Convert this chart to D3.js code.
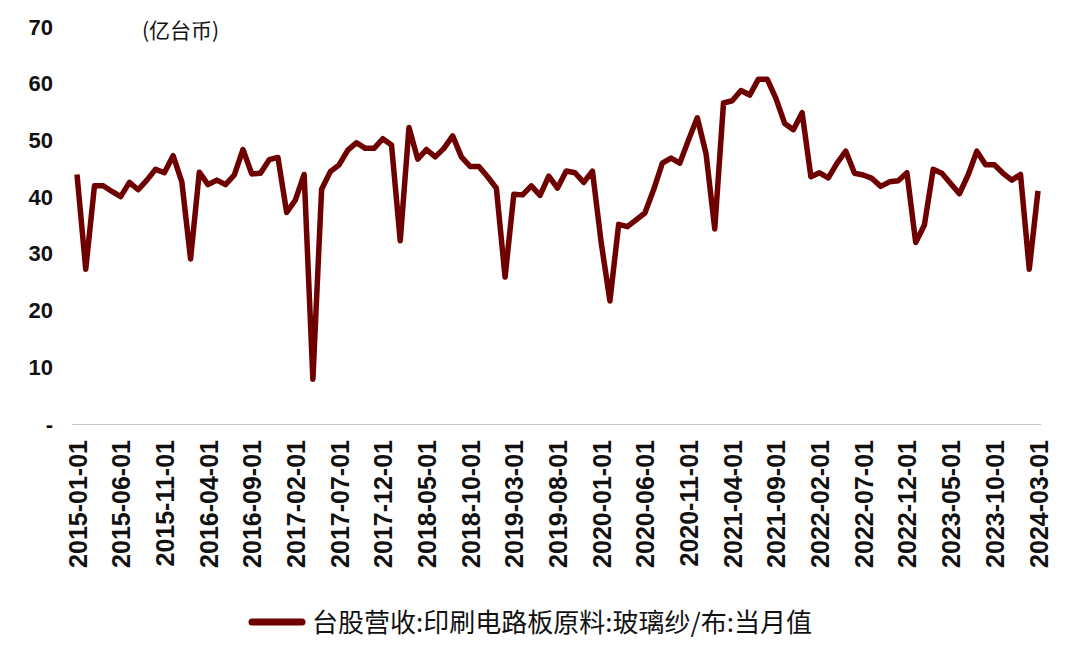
<!DOCTYPE html>
<html>
<head>
<meta charset="utf-8">
<script src="https://cdn.jsdelivr.net/npm/d3@7"></script>
<style>
  html, body { margin: 0; padding: 0; background: #fff; }
  svg { display: block; }
</style>
</head>
<body>
<svg id="chart" width="1074" height="653"></svg>
<script>
// ---- data ----
const months = [
  "2015-01-01","2015-02-01","2015-03-01","2015-04-01","2015-05-01","2015-06-01","2015-07-01","2015-08-01","2015-09-01","2015-10-01","2015-11-01","2015-12-01",
  "2016-01-01","2016-02-01","2016-03-01","2016-04-01","2016-05-01","2016-06-01","2016-07-01","2016-08-01","2016-09-01","2016-10-01","2016-11-01","2016-12-01",
  "2017-01-01","2017-02-01","2017-03-01","2017-04-01","2017-05-01","2017-06-01","2017-07-01","2017-08-01","2017-09-01","2017-10-01","2017-11-01","2017-12-01",
  "2018-01-01","2018-02-01","2018-03-01","2018-04-01","2018-05-01","2018-06-01","2018-07-01","2018-08-01","2018-09-01","2018-10-01","2018-11-01","2018-12-01",
  "2019-01-01","2019-02-01","2019-03-01","2019-04-01","2019-05-01","2019-06-01","2019-07-01","2019-08-01","2019-09-01","2019-10-01","2019-11-01","2019-12-01",
  "2020-01-01","2020-02-01","2020-03-01","2020-04-01","2020-05-01","2020-06-01","2020-07-01","2020-08-01","2020-09-01","2020-10-01","2020-11-01","2020-12-01",
  "2021-01-01","2021-02-01","2021-03-01","2021-04-01","2021-05-01","2021-06-01","2021-07-01","2021-08-01","2021-09-01","2021-10-01","2021-11-01","2021-12-01",
  "2022-01-01","2022-02-01","2022-03-01","2022-04-01","2022-05-01","2022-06-01","2022-07-01","2022-08-01","2022-09-01","2022-10-01","2022-11-01","2022-12-01",
  "2023-01-01","2023-02-01","2023-03-01","2023-04-01","2023-05-01","2023-06-01","2023-07-01","2023-08-01","2023-09-01","2023-10-01","2023-11-01","2023-12-01",
  "2024-01-01","2024-02-01","2024-03-01"
];
const revenue = [
  44.0,27.3,42.0,42.0,41.0,40.1,42.6,41.3,43.0,44.9,44.3,47.3,
  42.7,29.1,44.4,42.2,43.0,42.2,43.9,48.4,44.1,44.2,46.6,47.0,
  37.3,39.5,44.0,7.9,41.4,44.5,45.7,48.3,49.6,48.6,48.6,50.3,
  49.2,32.3,52.3,46.7,48.4,47.1,48.6,50.8,47.1,45.4,45.4,43.6,
  41.6,25.9,40.5,40.4,42.0,40.3,43.7,41.6,44.6,44.3,42.6,44.6,
  32.0,21.7,35.2,34.8,36.0,37.2,41.3,46.0,46.9,46.0,50.1,54.0,
  47.7,34.4,56.6,57.0,58.8,58.0,60.8,60.8,57.4,53.0,51.9,54.9,
  43.6,44.3,43.4,46.0,48.1,44.2,43.9,43.3,41.9,42.7,42.9,44.3,
  32.0,35.1,44.9,44.2,42.4,40.6,43.9,48.1,45.7,45.7,44.2,43.0,
  44.0,27.3,41.1
];
const xTickLabels = [
  "2015-01-01","2015-06-01","2015-11-01","2016-04-01","2016-09-01","2017-02-01","2017-07-01","2017-12-01",
  "2018-05-01","2018-10-01","2019-03-01","2019-08-01","2020-01-01","2020-06-01","2020-11-01","2021-04-01",
  "2021-09-01","2022-02-01","2022-07-01","2022-12-01","2023-05-01","2023-10-01","2024-03-01"
];
const yTicks = [0,10,20,30,40,50,60,70];
const yTickLabels = ["-","10","20","30","40","50","60","70"];
const unitLabel = "(亿台币)";
const seriesName = "台股营收:印刷电路板原料:玻璃纱/布:当月值";

// ---- drawing ----
const svg = d3.select("#chart");
const lineColor = "#6e0000";
const latin = "'Liberation Sans', Arial, sans-serif";
const cjk = "'Noto Sans CJK SC', 'Liberation Sans', sans-serif";

const x = d3.scalePoint().domain(months).range([77, 1038]);
const y = d3.scaleLinear().domain([0, 70]).range([424, 27]);

// baseline
svg.append("line")
  .attr("x1", 72).attr("x2", 1041)
  .attr("y1", y(0) + 0.5).attr("y2", y(0) + 0.5)
  .attr("stroke", "#c4c4c4").attr("stroke-width", 1);

// y axis
const yAxis = svg.append("g")
  .attr("transform", "translate(53,0)")
  .call(d3.axisLeft(y).tickValues(yTicks)
    .tickFormat((d, i) => yTickLabels[i]).tickSize(0).tickPadding(0));
yAxis.select(".domain").remove();
yAxis.selectAll("text")
  .attr("font-family", latin).attr("font-weight", "bold")
  .attr("font-size", 22).attr("fill", "#111");

// x axis
const xAxis = svg.append("g")
  .attr("transform", `translate(0,${y(0)})`)
  .call(d3.axisBottom(x).tickValues(xTickLabels).tickSize(0));
xAxis.select(".domain").remove();
xAxis.selectAll("text")
  .attr("transform", "rotate(-90)")
  .attr("text-anchor", "end")
  .attr("x", -16).attr("y", 0).attr("dy", "0.36em")
  .attr("font-family", latin).attr("font-weight", "bold")
  .attr("font-size", 25).attr("fill", "#111");

// unit label
svg.append("text")
  .attr("x", 142).attr("y", 38)
  .attr("font-family", cjk).attr("font-size", 21).attr("fill", "#111")
  .text(unitLabel);

// series line
const line = d3.line()
  .x((d, i) => x(months[i]))
  .y(d => y(d));
svg.append("path")
  .datum(revenue)
  .attr("d", line)
  .attr("fill", "none")
  .attr("stroke", lineColor)
  .attr("stroke-width", 5.5)
  .attr("stroke-linejoin", "round");

// legend
svg.append("line")
  .attr("x1", 252).attr("x2", 302).attr("y1", 622).attr("y2", 622)
  .attr("stroke", lineColor).attr("stroke-width", 7).attr("stroke-linecap", "round");
svg.append("text")
  .attr("x", 312).attr("y", 632)
  .attr("font-family", cjk).attr("font-size", 26).attr("fill", "#111")
  .text(seriesName);
</script>
</body>
</html>
